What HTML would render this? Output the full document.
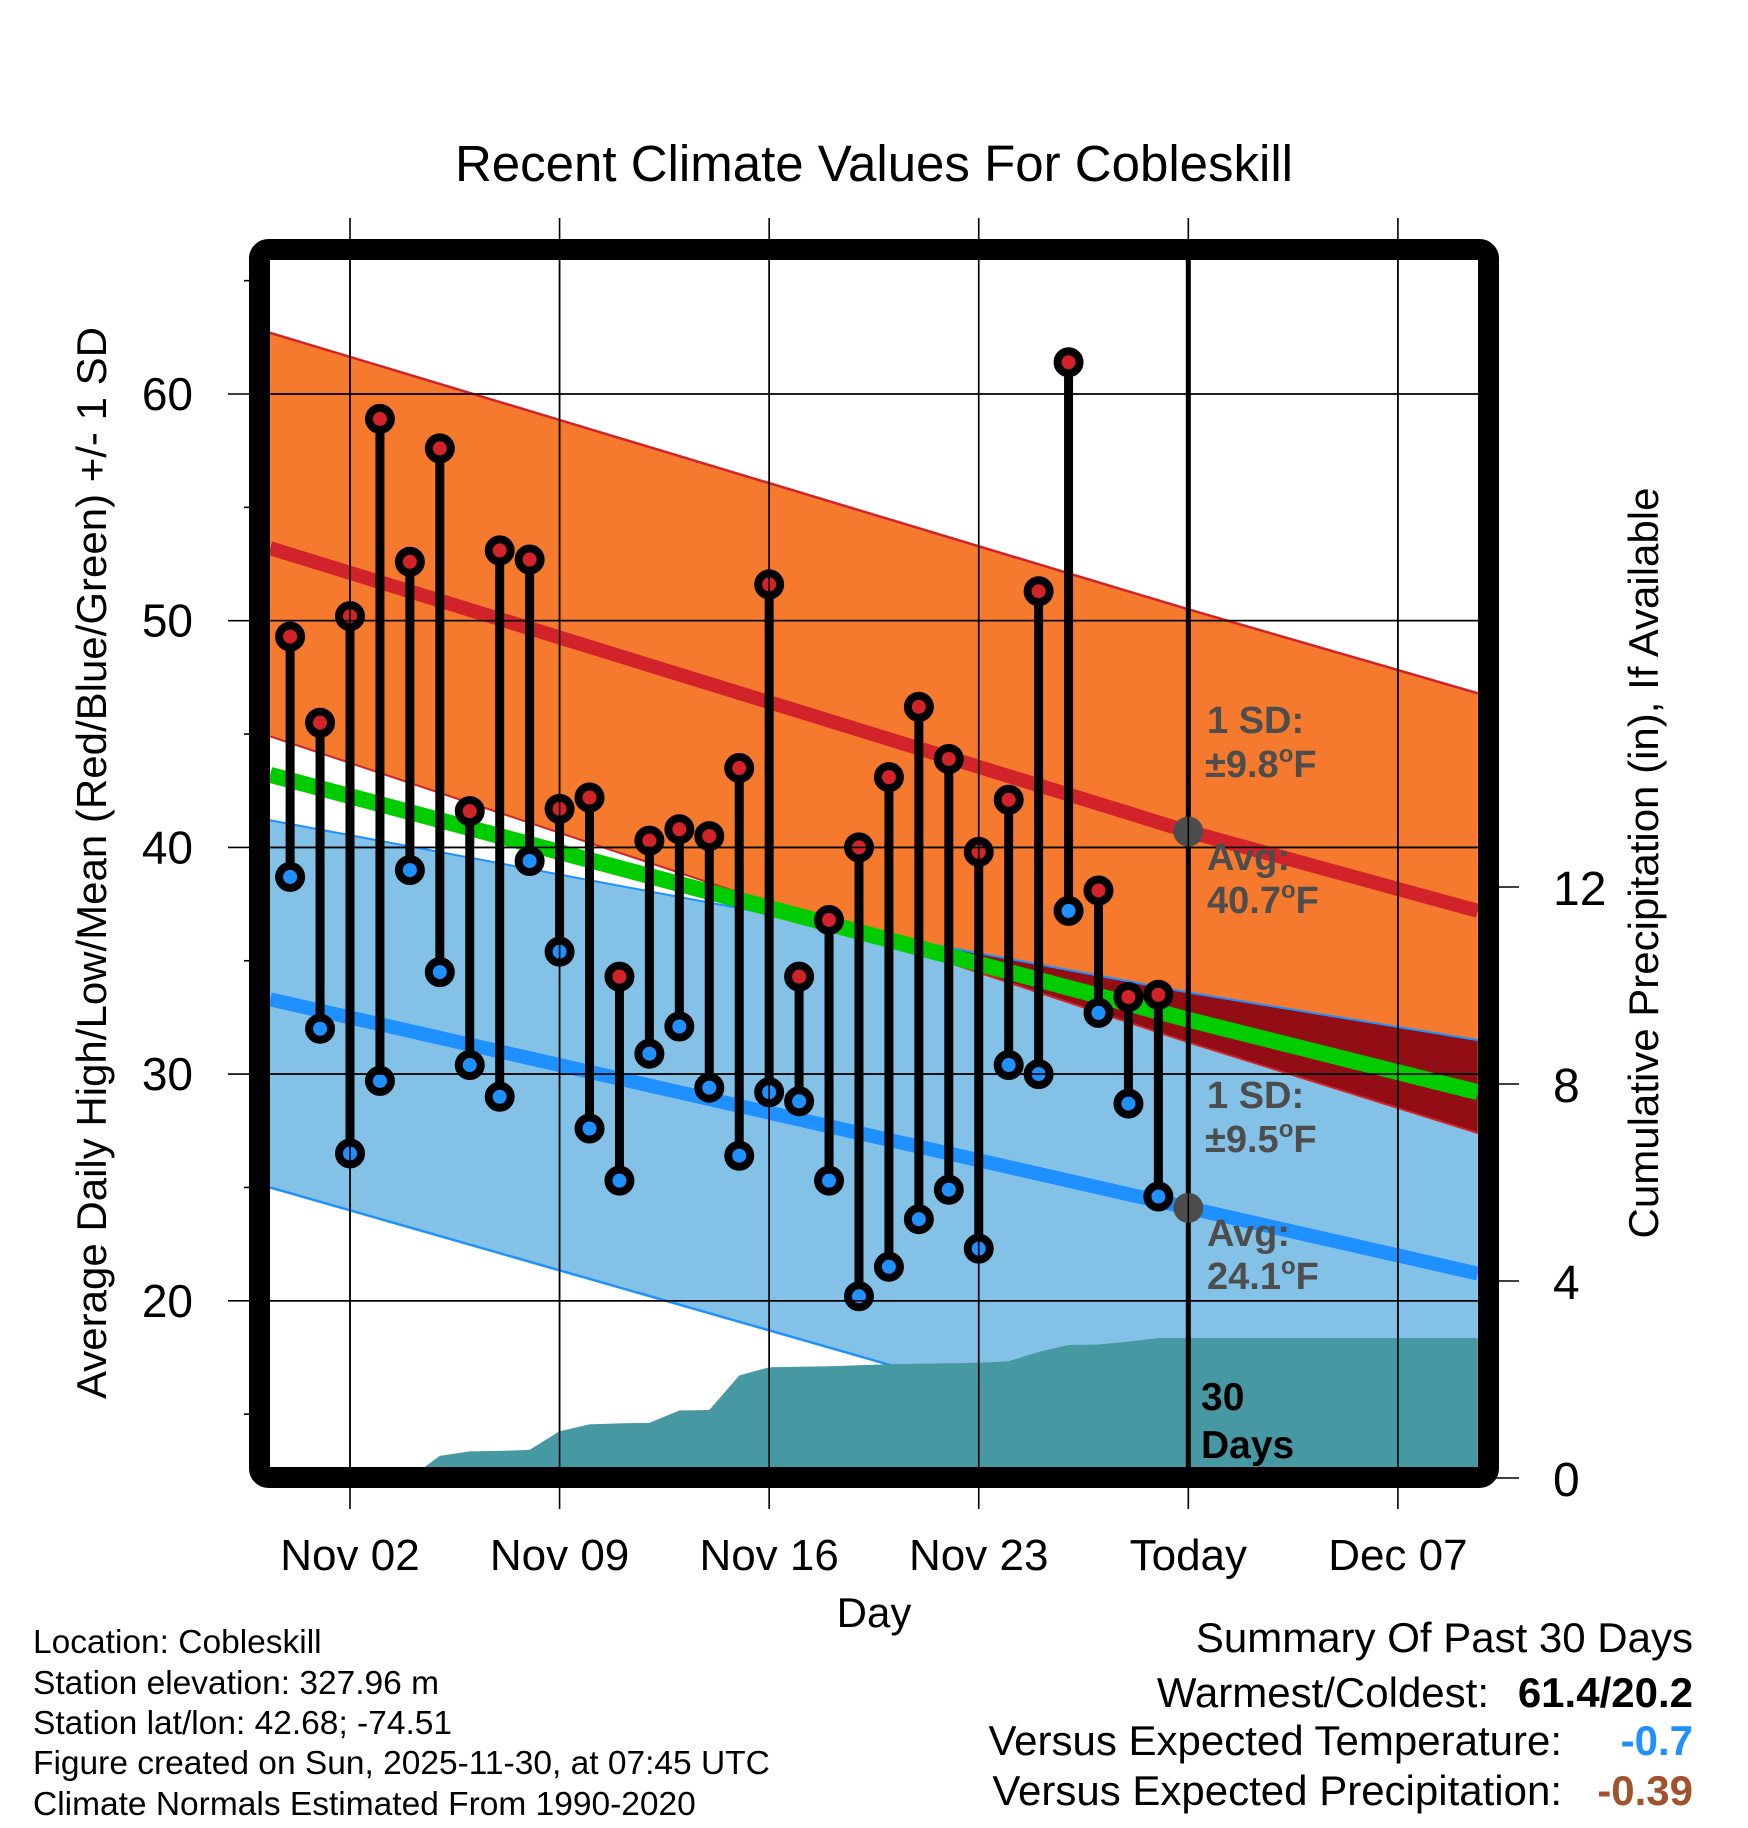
<!DOCTYPE html>
<html><head><meta charset="utf-8"><style>
html,body{margin:0;padding:0;background:#fff}
svg{display:block}
text{font-family:"Liberation Sans",Arial,sans-serif}
</style></head><body>
<svg id="chart" xmlns="http://www.w3.org/2000/svg" width="1748" height="1828" viewBox="0 0 1748 1828">
<defs>
<clipPath id="plotClip"><rect x="270" y="260" width="1208" height="1208"/></clipPath>
<clipPath id="lowBandClip"><polygon id="lowBandClipPoly"/></clipPath>
</defs>
<g id="plot" clip-path="url(#plotClip)"></g>
<g id="axes"></g>
<rect x="259.5" y="249.5" width="1229" height="1228" rx="9" fill="none" stroke="#000" stroke-width="21"/>
<text x="874" y="181" text-anchor="middle" font-size="51">Recent Climate Values For Cobleskill</text>
<text x="874" y="1627" text-anchor="middle" font-size="42">Day</text>
<text transform="translate(106,863) rotate(-90)" text-anchor="middle" font-size="42">Average Daily High/Low/Mean (Red/Blue/Green) +/- 1 SD</text>
<text transform="translate(1658,863) rotate(-90)" text-anchor="middle" font-size="42">Cumulative Precipitation (in), If Available</text>
<g font-size="33.5">
<text x="33" y="1653">Location: Cobleskill</text>
<text x="33" y="1694">Station elevation: 327.96 m</text>
<text x="33" y="1734">Station lat/lon: 42.68; -74.51</text>
<text x="33" y="1774">Figure created on Sun, 2025-11-30, at 07:45 UTC</text>
<text x="33" y="1815">Climate Normals Estimated From 1990-2020</text>
</g>
<g font-size="42">
<text x="1693" y="1652" text-anchor="end">Summary Of Past 30 Days</text>
<text x="1489" y="1707" text-anchor="end">Warmest/Coldest:</text>
<text x="1693" y="1707" text-anchor="end" font-weight="bold">61.4/20.2</text>
<text x="1562" y="1755" text-anchor="end">Versus Expected Temperature:</text>
<text x="1693" y="1755" text-anchor="end" font-weight="bold" fill="#1e90ff">-0.7</text>
<text x="1562" y="1805" text-anchor="end">Versus Expected Precipitation:</text>
<text x="1693" y="1805" text-anchor="end" font-weight="bold" fill="#a0522d">-0.39</text>
</g>
<g font-size="38" font-weight="bold" fill="#4d4d4d">
<text x="1207" y="733">1 SD:</text>
<text x="1205" y="777">±9.8<tspan dy="-15" font-size="24">o</tspan><tspan dy="15">F</tspan></text>
<text x="1207" y="870">Avg:</text>
<text x="1207" y="913">40.7<tspan dy="-15" font-size="24">o</tspan><tspan dy="15">F</tspan></text>
<text x="1207" y="1108">1 SD:</text>
<text x="1205" y="1152">±9.5<tspan dy="-15" font-size="24">o</tspan><tspan dy="15">F</tspan></text>
<text x="1207" y="1246">Avg:</text>
<text x="1207" y="1289">24.1<tspan dy="-15" font-size="24">o</tspan><tspan dy="15">F</tspan></text>
</g>
<g font-size="39" font-weight="bold" fill="#000">
<text x="1201" y="1410">30</text>
<text x="1201" y="1458">Days</text>
</g>
</svg>
<script>
// ---- data ----
const days = [-2,-1,0,1,2,3,4,5,6,7,8,9,10,11,12,13,14,15,16,17,18,19,20,21,22,23,24,25,26,27]; // relative to Nov 02
const highs = [49.3,45.5,50.2,58.9,52.6,57.6,41.6,53.1,52.7,41.7,42.2,34.3,40.3,40.8,40.5,43.5,51.6,34.3,36.8,40.0,43.1,46.2,43.9,39.8,42.1,51.3,61.4,38.1,33.4,33.5];
const lows = [38.7,32.0,26.5,29.7,39.0,34.5,30.4,29.0,39.4,35.4,27.6,25.3,30.9,32.1,29.4,26.4,29.2,28.8,25.3,20.2,21.5,23.6,24.9,22.3,30.4,30.0,37.2,32.7,28.7,24.6];
const precip = [0,0,0,0,0,0.45,0.54,0.55,0.57,0.95,1.09,1.11,1.12,1.37,1.38,2.08,2.25,2.26,2.27,2.29,2.31,2.32,2.33,2.34,2.37,2.56,2.70,2.71,2.77,2.84];
const normDays = [-2.67, 28, 37.67];
const highUpper = [62.7, 50.5, 46.8];
const highAvg = [53.2, 40.7, 37.2];
const highLower = [44.9, 31.4, 27.4];
const lowUpper = [41.2, 33.6, 31.5];
const lowAvg = [33.3, 24.1, 21.2];
const lowLower = [25.0, 13.4, 9.8];
const meanTemp = [43.2, 32.4, 29.2];
const xTickDays = [0,7,14,21,28,35];
const xTickLabels = ["Nov 02","Nov 09","Nov 16","Nov 23","Today","Dec 07"];
const yTicks = [20,30,40,50,60];
const yMinor = [15,25,35,45,55,65];
const pTicks = [0,4,8,12];
const todayDay = 28;

// ---- scales ----
const X = d => 350 + d*29.94;
const Y = t => 394 + (60 - t)*22.67;
const P = v => 1478 - v*49.25;
const NS='http://www.w3.org/2000/svg';
const plot=document.getElementById('plot'), axes=document.getElementById('axes');
function mk(tag, attrs, parent){const e=document.createElementNS(NS,tag);for(const k in attrs)e.setAttribute(k,attrs[k]);parent.appendChild(e);return e;}
const pts = arr => normDays.map((d,i)=>X(d)+','+Y(arr[i])).join(' ');
const band = (u,l) => pts(u)+' '+normDays.slice().reverse().map((d,i)=>X(d)+','+Y(l[l.length-1-i])).join(' ');

let e;
e=mk('polygon',{points:band(highUpper,highLower),fill:'#f57a2e'},plot);


e=mk('polygon',{points:band(lowUpper,lowLower),fill:'#84c1e6'},plot);


document.getElementById('lowBandClipPoly').setAttribute('points',band(lowUpper,lowLower));
e=mk('polygon',{points:band(highUpper,highLower),fill:'#930d15','clip-path':'url(#lowBandClip)'},plot);



// gridlines
xTickDays.forEach((d,i)=>{
  e=mk('line',{x1:X(d),x2:X(d),y1:218,y2:1509,stroke:'#000','stroke-width':1.6},axes);
  
  
  e=mk('line',{x1:X(d),x2:X(d),y1:260,y2:1468,stroke:'#000','stroke-width':1.6},plot);
  
  
  e=mk('text',{x:X(d),y:1570,'text-anchor':'middle','font-size':44},axes);
  e.textContent=xTickLabels[i];
  
  
});
yTicks.forEach(t=>{
  e=mk('line',{x1:228,x2:1478,y1:Y(t),y2:Y(t),stroke:'#000','stroke-width':1.6},axes);
  
  
  e=mk('line',{x1:270,x2:1478,y1:Y(t),y2:Y(t),stroke:'#000','stroke-width':1.6},plot);
  
  
  e=mk('text',{x:193,y:Y(t)+16,'text-anchor':'end','font-size':46},axes);
  e.textContent=t;
  
  
});
yMinor.forEach(t=>{
  e=mk('line',{x1:244,x2:252,y1:Y(t),y2:Y(t),stroke:'#000','stroke-width':1.6},axes);
  
  
});
pTicks.forEach(v=>{
  e=mk('line',{x1:1495,x2:1519,y1:P(v),y2:P(v),stroke:'#000','stroke-width':1.6},axes);
  
  
  e=mk('text',{x:1553,y:P(v)+18,'font-size':48},axes);
  e.textContent=v;
  
  
});

// lower edge of low band drawn beneath precipitation
e=mk('polyline',{points:pts(lowLower),fill:'none',stroke:'#1e90ff','stroke-width':2.5},plot);



// precipitation area
let pp=[X(-2.67)+','+P(0)];
days.forEach((d,i)=>pp.push(X(d)+','+P(precip[i])));
pp.push(X(37.67)+','+P(precip[precip.length-1]));
pp.push(X(37.67)+','+1480);pp.push(X(-2.67)+','+1480);
e=mk('polygon',{points:pp.join(' '),fill:'#4698a3'},plot);



// normal lines
e=mk('polyline',{points:pts(highUpper),fill:'none',stroke:'#d2232a','stroke-width':2.5},plot);


e=mk('polyline',{points:pts(highLower),fill:'none',stroke:'#d2232a','stroke-width':2},plot);


e=mk('polyline',{points:pts(lowUpper),fill:'none',stroke:'#1e90ff','stroke-width':2},plot);


e=mk('polyline',{points:pts(meanTemp),fill:'none',stroke:'#00cc00','stroke-width':16},plot);


e=mk('polyline',{points:pts(highAvg),fill:'none',stroke:'#d2232a','stroke-width':14},plot);


e=mk('polyline',{points:pts(lowAvg),fill:'none',stroke:'#1e90ff','stroke-width':14},plot);



// today line
e=mk('line',{x1:X(todayDay),x2:X(todayDay),y1:255,y2:1470,stroke:'#000','stroke-width':5},plot);



// daily stems and points
days.forEach((d,i)=>{
  e=mk('line',{x1:X(d),x2:X(d),y1:Y(highs[i]),y2:Y(lows[i]),stroke:'#000','stroke-width':9},plot);
  
  
});
days.forEach((d,i)=>{
  e=mk('circle',{cx:X(d),cy:Y(highs[i]),r:11,fill:'#d2232a',stroke:'#000','stroke-width':8},plot);
  
  
  e=mk('circle',{cx:X(d),cy:Y(lows[i]),r:11,fill:'#1e90ff',stroke:'#000','stroke-width':8},plot);
  
  
});

// today markers on normals
const hToday=highAvg[1], lToday=lowAvg[1];
e=mk('circle',{cx:X(todayDay),cy:Y(hToday),r:15,fill:'#4d4d4d'},plot);


e=mk('circle',{cx:X(todayDay),cy:Y(lToday),r:15,fill:'#4d4d4d'},plot);


</script>
</body></html>
